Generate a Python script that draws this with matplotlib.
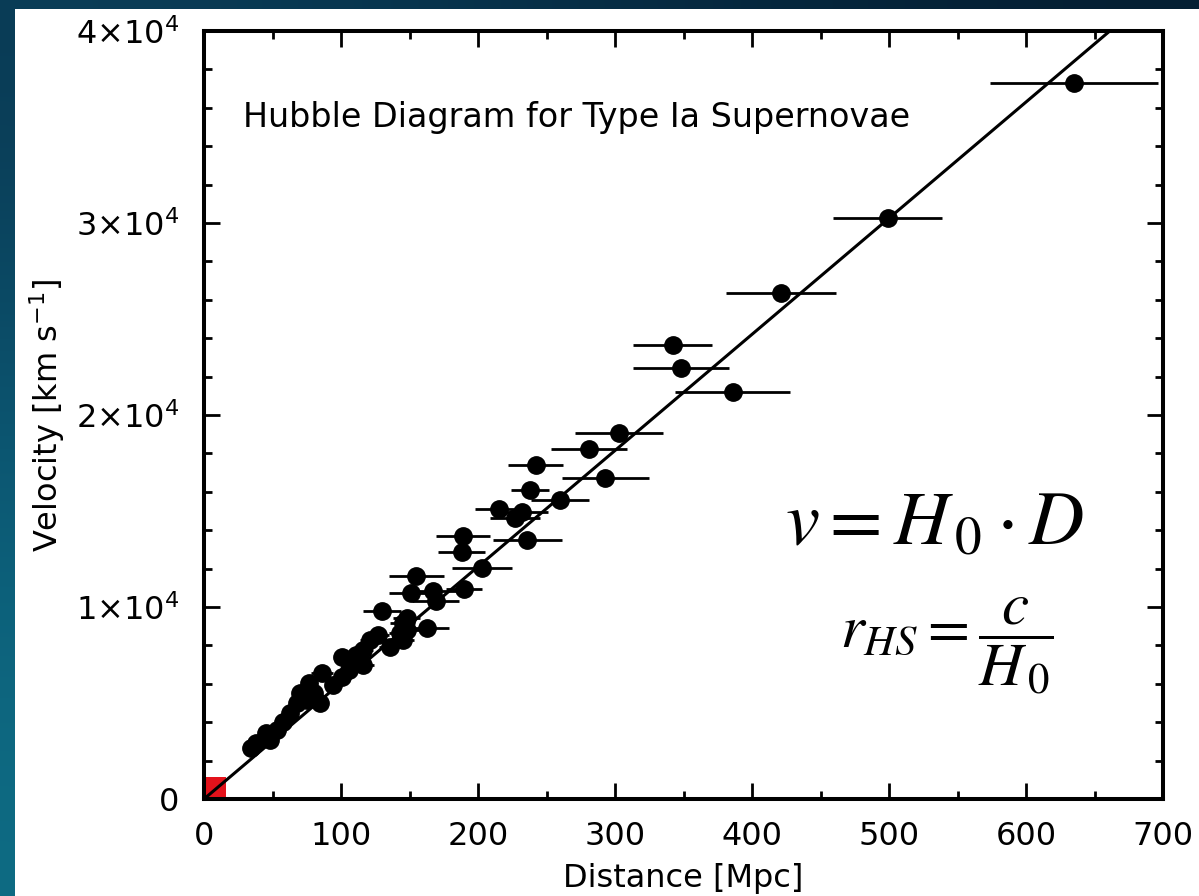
import numpy as np
import matplotlib
matplotlib.use("Agg")
import matplotlib.pyplot as plt
from matplotlib.patches import Rectangle
from matplotlib.ticker import FixedLocator, FixedFormatter, MultipleLocator

# Type Ia supernovae
distance = [635, 499, 421, 342, 348, 386, 303, 281, 242, 293,
            238, 260, 215, 232, 227, 236, 189, 188, 203, 155,
            151, 167, 169, 190, 130, 148, 145, 148, 163, 145,
            136, 127, 121, 116, 111, 101, 116, 106, 101, 94,
            86, 77, 85, 80, 70, 68, 63, 58, 53, 45,
            48, 38, 34, 143, 75]
velocity = [37300, 30260, 26350, 23650, 22430, 21220, 19050, 18230, 17400, 16700,
            16090, 15570, 15090, 14960, 14620, 13490, 13700, 12880, 12020, 11610,
            10710, 10830, 10310, 10920, 9810, 9430, 9170, 8800, 8890, 8280,
            7920, 8540, 8280, 7760, 7500, 7400, 6980, 6720, 6350, 5940,
            6560, 6040, 5000, 5520, 5520, 5000, 4480, 4010, 3590, 3440,
            3070, 2920, 2660, 8650, 5160]
distance_err = [61, 40, 40, 29, 35, 42, 32, 28, 20, 32,
                14, 21, 17, 19, 18, 25, 20, 17, 22, 20,
                16, 17, 17, 13, 14, 10, 9, 9, 16, 8,
                8, 8, 7, 7, 7, 6, 8, 6, 6, 6,
                8, 5, 5, 5, 4, 4, 4, 4, 3, 3,
                3, 3, 3, 8, 5]

hubble_const = 60.5
fit_range = [0, 700]

x_ticks = [0, 100, 200, 300, 400, 500, 600, 700]
x_tick_labels = ['0', '100', '200', '300', '400', '500', '600', '700']
y_ticks = [0, 10000, 20000, 30000, 40000]
y_tick_labels = ['0', r'$1{\times}10^4$', r'$2{\times}10^4$', r'$3{\times}10^4$', r'$4{\times}10^4$']

W, H = 1199, 896
fig = plt.figure(figsize=(W / 100, H / 100), dpi=100)

# dark blue slide background with a white panel on top
bg = fig.add_axes([0, 0, 1, 1], zorder=-10)
grad = np.array([
    [[10, 60, 86], [5, 44, 68], [4, 30, 50]],
    [[12, 88, 116], [8, 66, 94], [5, 44, 68]],
    [[14, 108, 132], [10, 88, 112], [6, 60, 86]],
]) / 255.0
bg.imshow(grad, extent=[0, 1, 0, 1], aspect='auto', interpolation='bicubic', origin='upper')
bg.add_patch(Rectangle((15 / W, 0), 1, 1 - 9 / H, transform=bg.transAxes,
                       facecolor='white', edgecolor='none', zorder=2))
bg.set_xlim(0, 1)
bg.set_ylim(0, 1)
bg.axis('off')

ax = fig.add_axes([204 / W, 1 - 799 / H, (1163 - 204) / W, (799 - 31) / H])
ax.set_facecolor('white')

# small red box at the origin
ax.add_patch(Rectangle((0, 0), 16, 1150, facecolor='#e3121b', edgecolor='none', zorder=1))

fit_x = np.array(fit_range)
ax.plot(fit_x, hubble_const * fit_x, color='black', linewidth=2.2, zorder=3)
ax.errorbar(distance, velocity, xerr=distance_err, fmt='o', color='black',
            markersize=12.5, elinewidth=2.0, capsize=0, zorder=4)

ax.set_xlim(0, 700)
ax.set_ylim(0, 40000)
ax.xaxis.set_major_locator(FixedLocator(x_ticks))
ax.xaxis.set_major_formatter(FixedFormatter(x_tick_labels))
ax.yaxis.set_major_locator(FixedLocator(y_ticks))
ax.yaxis.set_major_formatter(FixedFormatter(y_tick_labels))
ax.xaxis.set_minor_locator(MultipleLocator(50))
ax.yaxis.set_minor_locator(MultipleLocator(2000))
ax.tick_params(which='both', direction='in', top=True, right=True, width=2.0, color='black')
ax.tick_params(which='major', length=11.5, labelsize=23)
ax.tick_params(axis='x', which='major', pad=16)
ax.tick_params(axis='y', which='major', pad=18)
ax.tick_params(which='minor', length=5.8)
for sp in ax.spines.values():
    sp.set_linewidth(2.9)

ax.set_xlabel('Distance [Mpc]', fontsize=23)
ax.set_ylabel(r'Velocity [km s$^{-1}$]', fontsize=23)
ax.xaxis.set_label_coords(0.5, -0.083)
ax.yaxis.set_label_coords(-0.143, 0.5)

ax.text(0.0407, 0.875, 'Hubble Diagram for Type Ia Supernovae', transform=ax.transAxes,
        fontsize=24, ha='left', va='baseline')

fig.text(785 / W, 1 - 544 / H, r'$v = H_{\,0}\cdot D$', fontsize=55,
         math_fontfamily='stix', ha='left', va='baseline')
fig.text(840 / W, 1 - 648 / H, r'$r_{HS} = \dfrac{c}{H_{\,0}}$', fontsize=44,
         math_fontfamily='stix', ha='left', va='baseline')

fig.savefig('out.png', dpi=100)
